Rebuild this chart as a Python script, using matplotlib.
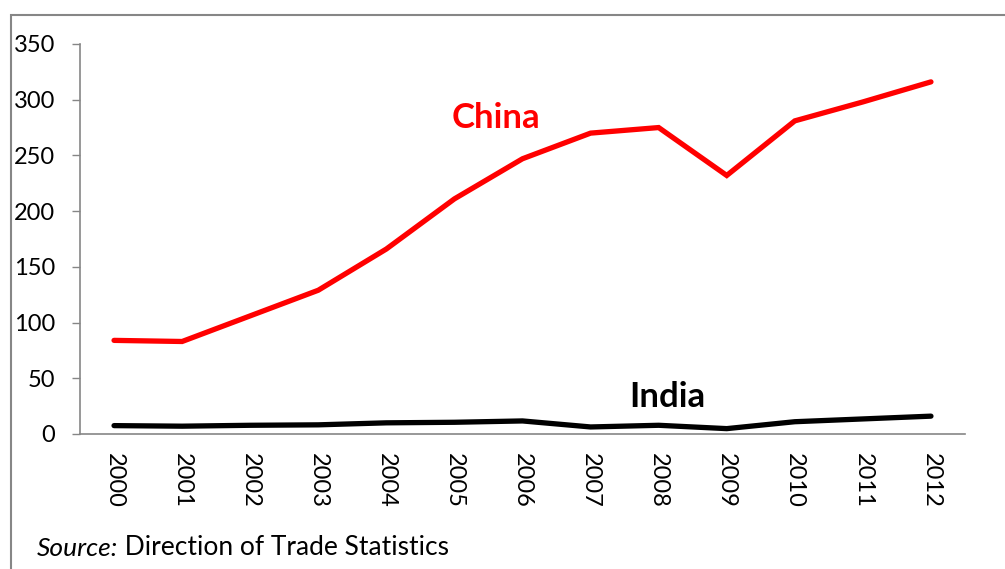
import matplotlib
matplotlib.use("Agg")
import matplotlib.pyplot as plt
from matplotlib.patches import Rectangle

plt.rcParams["font.family"] = ["Lato", "DejaVu Sans"]

# values
years = ["2000", "2001", "2002", "2003", "2004", "2005", "2006",
         "2007", "2008", "2009", "2010", "2011", "2012"]
china = [84, 83, 106, 129, 166, 211, 247, 270, 275, 232, 281, 298, 316]
india = [7.5, 7, 7.8, 8.2, 10, 10.5, 11.7, 6.3, 7.8, 4.8, 11, 13.5, 16]
y_ticks = [0, 50, 100, 150, 200, 250, 300, 350]

fig = plt.figure(figsize=(10.05, 5.69), dpi=100)
fig.set_facecolor("white")
ax = fig.add_axes([0.0796, 0.2373, 0.8806, 0.6854])

x = range(len(years))
ax.plot(x, china, color="#ff0000", lw=3.8, solid_capstyle="round", solid_joinstyle="miter")
ax.plot(x, india, color="black", lw=3.8, solid_capstyle="round", solid_joinstyle="miter")

ax.set_xlim(-0.5, len(years) - 0.5)
ax.set_ylim(0, 350)
ax.set_yticks(y_ticks)
ax.set_xticks(list(x))
ax.set_xticklabels(years, rotation=-90, va="top", ha="center")

ax.tick_params(axis="y", length=6, width=1, color="#868686", pad=12, labelsize=17)
ax.tick_params(axis="x", length=0, pad=14, labelsize=17)

for side in ["top", "right"]:
    ax.spines[side].set_visible(False)
for side in ["left", "bottom"]:
    ax.spines[side].set_color("#868686")
    ax.spines[side].set_linewidth(1.2)

ax.text(5.61, 284, "China", color="#ff0000", fontsize=25, fontweight="bold",
        ha="center", va="center")
ax.text(8.13, 33.5, "India", color="black", fontsize=25, fontweight="bold",
        ha="center", va="center")

src = fig.text(0.0368, 0.0228, "Source:", fontsize=19, style="italic",
               ha="left", va="baseline")
ax.annotate(" Direction of Trade Statistics", xy=(1, 0), xycoords=src,
            fontsize=19, ha="left", va="bottom", annotation_clip=False)

# chart frame, running off the right and bottom edges like the original
fig.patches.append(Rectangle((11 / 1005, -0.1), 1.2, (569 - 15) / 569 + 0.1,
                             transform=fig.transFigure, fill=False,
                             edgecolor="#868686", lw=1.5))

fig.savefig("out.png", dpi=100)
